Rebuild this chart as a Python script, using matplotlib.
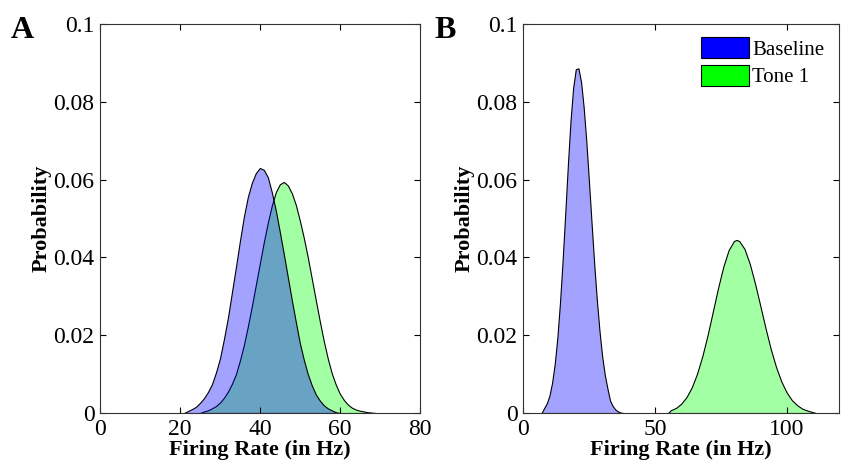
import matplotlib
matplotlib.use("Agg")
import matplotlib.pyplot as plt
from matplotlib.patches import Patch

plt.rcParams['font.family'] = ['Liberation Serif', 'DejaVu Serif']

# Panel A: baseline vs tone 1 (overlapping), 1 Hz steps
a_base_x = list(range(21, 61))
a_base_y = [0.0, 0.0005, 0.0010, 0.0016, 0.0026, 0.0038, 0.0054, 0.0074, 0.0104, 0.0140,
            0.0190, 0.0245, 0.0310, 0.0375, 0.0442, 0.0505, 0.0556, 0.0592, 0.0617, 0.0630,
            0.0625, 0.0606, 0.0567, 0.0520, 0.0465, 0.0408, 0.0349, 0.0290, 0.0234, 0.0180,
            0.0137, 0.0100, 0.0071, 0.0048, 0.0032, 0.0020, 0.0012, 0.0007, 0.0002, 0.0]

a_tone_x = list(range(25, 70))
a_tone_y = [0.0, 0.0004, 0.0007, 0.0012, 0.0018, 0.0027, 0.0039, 0.0055, 0.0075, 0.0100,
            0.0135, 0.0175, 0.0223, 0.0275, 0.0330, 0.0385, 0.0440, 0.0490, 0.0534, 0.0568,
            0.0588, 0.0594, 0.0585, 0.0565, 0.0535, 0.0495, 0.0450, 0.0400, 0.0345, 0.0290,
            0.0236, 0.0185, 0.0140, 0.0102, 0.0073, 0.0050, 0.0034, 0.0022, 0.0014, 0.0009,
            0.0006, 0.0004, 0.0002, 0.0001, 0.0]

# Panel B: baseline vs tone 1 (separated)
b_base_x = list(range(7, 39))
b_base_y = [0.0, 0.0013, 0.0025, 0.0045, 0.0078, 0.0126, 0.0194, 0.0284, 0.0393, 0.0514, 0.0639,
            0.0752, 0.0837, 0.0884, 0.0886, 0.0851, 0.0785, 0.0697, 0.0594, 0.0486, 0.0382, 0.0289,
            0.0210, 0.0146, 0.0098, 0.0063, 0.0032, 0.0018, 0.0009, 0.0004, 0.0001, 0.0]

b_tone_x = [55, 56, 58, 60, 62, 64, 66, 68, 70, 72, 74, 76, 78, 80, 81, 82, 84, 86, 88, 90, 92, 94,
            96, 98, 100, 102, 104, 106, 108, 110, 111]
b_tone_y = [0.0, 0.0007, 0.0013, 0.0024, 0.0041, 0.0066, 0.0101, 0.0146, 0.0200, 0.0261, 0.0322,
            0.0377, 0.0419, 0.0442, 0.0445, 0.0442, 0.0422, 0.0384, 0.0333, 0.0276, 0.0218, 0.0164,
            0.0118, 0.0081, 0.0053, 0.0033, 0.0020, 0.0011, 0.0006, 0.0002, 0.0]

labels = ["Baseline", "Tone 1"]
blue_fill = (0, 0, 1, 0.36)
green_fill = (0, 1, 0, 0.36)

fig = plt.figure(figsize=(8.41, 4.67), dpi=100)
axA = fig.add_axes([0.119, 0.1156, 0.380, 0.833])
axB = fig.add_axes([0.622, 0.1156, 0.376, 0.833])


def draw(ax, bx, by, tx, ty, xlim, xticks):
    ax.fill_between(tx, ty, 0, facecolor=green_fill, edgecolor='k', linewidth=0.8)
    ax.fill_between(bx, by, 0, facecolor=blue_fill, edgecolor='k', linewidth=0.8)
    ax.set_xlim(*xlim)
    ax.set_ylim(0, 0.1)
    ax.set_xticks(xticks)
    ax.set_yticks([0, 0.02, 0.04, 0.06, 0.08, 0.1])
    ax.set_yticklabels(["0", "0.02", "0.04", "0.06", "0.08", "0.1"])
    ax.tick_params(direction='in', top=True, right=True, length=4, labelsize=17, pad=4)
    ax.set_xlabel("Firing Rate (in Hz)", fontsize=16, fontweight='bold', labelpad=0)
    ax.set_ylabel("Probability", fontsize=16, fontweight='bold', labelpad=1)
    for s in ax.spines.values():
        s.set_color('#333333')


draw(axA, a_base_x, a_base_y, a_tone_x, a_tone_y, (0, 80), [0, 20, 40, 60, 80])
draw(axB, b_base_x, b_base_y, b_tone_x, b_tone_y, (0, 120), [0, 50, 100])

handles = [Patch(facecolor=(0, 0, 1), edgecolor='k', linewidth=0.8),
           Patch(facecolor=(0, 1, 0), edgecolor='k', linewidth=0.8)]
axB.legend(handles, labels, loc='upper left', bbox_to_anchor=(0.563, 0.966), frameon=False,
           fontsize=15, handlelength=2.3, handleheight=1.15, handletextpad=0.15,
           labelspacing=0.25, borderpad=0, borderaxespad=0)

fig.text(0.027, 0.935, "A", fontsize=23, fontweight='bold', ha='center', va='center')
fig.text(0.529, 0.935, "B", fontsize=23, fontweight='bold', ha='center', va='center')

fig.savefig("out.png", dpi=100)
